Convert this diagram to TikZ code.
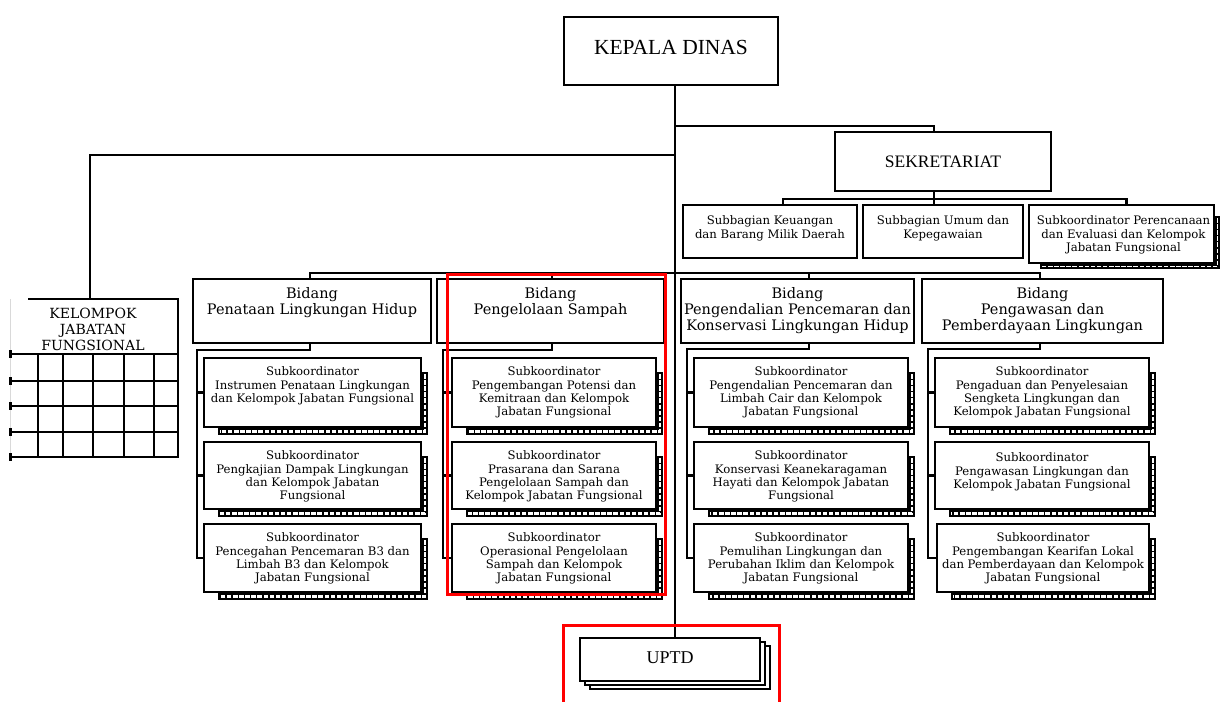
\documentclass[tikz,border=0pt]{standalone}
\usepackage{fontspec}
\setmainfont{Liberation Serif}
\newfontfamily\slabfont{DejaVu Serif}
\usetikzlibrary{calc}
\pgfdeclarelayer{paper}
\pgfdeclarelayer{back}
\pgfsetlayers{paper,back,main}

\tikzset{
  orgbox/.style={draw, line width=2.4pt, fill=white, inner sep=0pt, outer sep=0pt, anchor=north west},
  wire/.style={line width=2.4pt},
  gridline/.style={line width=2.5pt},
  smalltxt/.style={font=\slabfont\fontsize{11.7}{13.4}\selectfont, align=center, inner sep=0pt, anchor=north},
  bidtxt/.style={font=\slabfont\fontsize{14.5}{16}\selectfont, align=center, inner sep=0pt, anchor=north},
  headtxt/.style={inner sep=0pt},
  redframe/.style={draw=red, line width=3pt},
}

% box given by its corners (x1,y1) (x2,y2), y growing downwards
\newcommand{\obox}[5]{\node[orgbox, minimum width={#4-#2}, minimum height={#5-#3}] (#1) at (#2,#3) {};}
% hatched drop shadow: node, right strip, bottom strip, inset, ladder width
\newcommand{\ladder}[5]{%
  \fill[black] ($(#1.north west)+(#4,#4)$) rectangle ($(#1.south east)+(#2,#3)$);
  \draw[white, line width=#5pt, dash pattern=on 4.5pt off 1.6pt]
    ($(#1.north east)+(#2*0.5+0.5,#4+2)$) -- ($(#1.south east)+(#2*0.5+0.5,#3*0.5+0.5)$)
    -- ($(#1.south west)+(#4+2,#3*0.5+0.5)$);
}

\begin{document}
\begin{tikzpicture}[x=1pt,y=-1pt]
\useasboundingbox (0,0) rectangle (1220,701);
\begin{pgfonlayer}{paper}
  \fill[white] (0,0) rectangle (1220,701);
\end{pgfonlayer}

% ---------- boxes ----------
\obox{kd}{564}{17}{778}{85}
\obox{sek}{835}{132}{1051}{191}
\obox{sb1}{683}{205}{857}{258}
\obox{sb2}{863}{205}{1023}{258}
\obox{sb3}{1029}{205}{1214}{263}

\obox{bd1}{193}{279}{431}{343}
\obox{bd2}{437}{279}{664}{343}
\obox{bd3}{681}{279}{914}{343}
\obox{bd4}{922}{279}{1163}{343}

\obox{s11}{204}{358}{421}{427}
\obox{s12}{204}{442}{421}{509}
\obox{s13}{204}{524}{421}{592}
\obox{s21}{452}{358}{656}{427}
\obox{s22}{452}{442}{656}{509}
\obox{s23}{452}{524}{656}{592}
\obox{s31}{694}{358}{908}{427}
\obox{s32}{694}{442}{908}{509}
\obox{s33}{694}{524}{908}{592}
\obox{s41}{935}{358}{1149}{427}
\obox{s42}{935}{442}{1149}{509}
\obox{s43}{937}{524}{1149}{592}

\obox{uptd}{580}{638}{760}{681}
\node[inner sep=0pt, outer sep=0pt, minimum width=168, minimum height=158, anchor=north west] (kel) at (10,299) {};

% ---------- connectors and shadows ----------
\begin{pgfonlayer}{back}
  \coordinate (spine) at (675,0);
  \coordinate (jsek) at (675,126);
  \coordinate (jkel) at (675,155);
  \draw[wire] (kd.south -| spine) -- (uptd.north -| spine);
  \draw[wire] (jsek) -| ($(sek.north)+(-9,0)$);
  \draw[wire] ($(sek.south)+(-9,0)$) -- ($(sb2.north)+(-9,0)$);
  \draw[wire] ($(sb1.north)+(13,0)$) |- ($(sb3.north)+(5,-6)$) -- ($(sb3.north)+(5,0)$);
  \draw[wire] (jkel) -| ($(kel.north)+(-4,0)$);

  \draw[wire] ($(bd1.north)+(-2,0)$) |- ($(bd4.north)+(-2.5,-6)$) -- ($(bd4.north)+(-2.5,0)$);
  \draw[wire] ($(bd2.north)+(1.5,0)$) -- ++(0,-6);
  \draw[wire] ($(bd3.north)+(11.5,0)$) -- ++(0,-6);

  \coordinate (v1) at (197,350);
  \coordinate (v2) at (443,350);
  \coordinate (v3) at (687,349);
  \coordinate (v4) at (928,349);
  \draw[wire] ($(bd1.south)+(-2,0)$) |- (v1) |- (s13.west);
  \draw[wire] ($(bd2.south)+(1.5,0)$) |- (v2) |- (s23.west);
  \draw[wire] ($(bd3.south)+(11.5,0)$) |- (v3) |- (s33.west);
  \draw[wire] ($(bd4.south)+(-2.5,0)$) |- (v4) |- (s43.west);
  \foreach \c/\v in {1/v1,2/v2,3/v3,4/v4}{
    \draw[wire] (\v |- s\c1.west) -- (s\c1.west);
    \draw[wire] (\v |- s\c2.west) -- (s\c2.west);
  }

  \foreach \n in {s11,s12,s13,s21,s22,s23,s31,s32,s33,s41,s42,s43}{
    \ladder{\n}{7}{8}{14}{2.4}
  }
  \ladder{sb3}{6}{6}{11}{1.9}

  \draw[line width=1.8pt, fill=white] ($(uptd.north west)+(10,8)$) rectangle ($(uptd.south east)+(10,8)$);
  \draw[line width=1.8pt, fill=white] ($(uptd.north west)+(5,4)$) rectangle ($(uptd.south east)+(5,4)$);
\end{pgfonlayer}

% ---------- functional group table ----------
\draw[wire] ($(kel.north west)+(18,0)$) -- (kel.north east) -- (kel.south east) -- (kel.south west);
\draw[gray!30, line width=0.8pt] (kel.south west) -- (kel.north west);
\foreach \yy in {354,381,406,432} \draw[gridline] (10,\yy) -- (178,\yy);
\foreach \xx in {38,63,93,124,154} \draw[gridline] (\xx,354) -- (\xx,457);
\foreach \yy in {354,381,406,432,457} \fill (9,\yy-4) rectangle (12,\yy+4);

% ---------- texts ----------
\node[headtxt, font=\fontsize{21.5}{24}\selectfont] (kd-t) at ($(kd.center)+(0,-4)$) {KEPALA DINAS};
\node[headtxt, font=\fontsize{17.5}{20}\selectfont] (sek-t) at (sek.center) {SEKRETARIAT};
\node[headtxt, font=\fontsize{18}{20}\selectfont] (uptd-t) at ($(uptd.center)+(0,-2)$) {UPTD};

\node[smalltxt] (sb1-t) at ($(sb1.north)+(0,10.6)$) {Subbagian Keuangan\\dan Barang Milik Daerah};
\node[smalltxt] (sb2-t) at ($(sb2.north)+(0,10.6)$) {Subbagian Umum dan\\Kepegawaian};
\node[smalltxt] (sb3-t) at ($(sb3.north)+(2,10.6)$) {Subkoordinator Perencanaan\\dan Evaluasi dan Kelompok\\Jabatan Fungsional};

\node[bidtxt, font=\slabfont\fontsize{14}{16}\selectfont] (kel-t) at ($(kel.north)+(-1,9)$) {KELOMPOK\\JABATAN\\FUNGSIONAL};

\node[bidtxt] (bd1-t) at ($(bd1.north)+(0,8.5)$) {Bidang\\Penataan Lingkungan Hidup};
\node[bidtxt] (bd2-t) at ($(bd2.north)+(0,8.5)$) {Bidang\\Pengelolaan Sampah};
\node[bidtxt] (bd3-t) at ($(bd3.north)+(0,8.5)$) {Bidang\\Pengendalian Pencemaran dan\\Konservasi Lingkungan Hidup};
\node[bidtxt] (bd4-t) at ($(bd4.north)+(0,8.5)$) {Bidang\\Pengawasan dan\\Pemberdayaan Lingkungan};

\node[smalltxt] (s11-t) at ($(s11.north)+(0,8.6)$) {Subkoordinator\\Instrumen Penataan Lingkungan\\dan Kelompok Jabatan Fungsional};
\node[smalltxt] (s12-t) at ($(s12.north)+(0,8.6)$) {Subkoordinator\\Pengkajian Dampak Lingkungan\\dan Kelompok Jabatan\\Fungsional};
\node[smalltxt] (s13-t) at ($(s13.north)+(0,8.6)$) {Subkoordinator\\Pencegahan Pencemaran B3 dan\\Limbah B3 dan Kelompok\\Jabatan Fungsional};

\node[smalltxt] (s21-t) at ($(s21.north)+(0,8.6)$) {Subkoordinator\\Pengembangan Potensi dan\\Kemitraan dan Kelompok\\Jabatan Fungsional};
\node[smalltxt] (s22-t) at ($(s22.north)+(0,8.6)$) {Subkoordinator\\Prasarana dan Sarana\\Pengelolaan Sampah dan\\Kelompok Jabatan Fungsional};
\node[smalltxt] (s23-t) at ($(s23.north)+(0,8.6)$) {Subkoordinator\\Operasional Pengelolaan\\Sampah dan Kelompok\\Jabatan Fungsional};

\node[smalltxt] (s31-t) at ($(s31.north)+(0,8.6)$) {Subkoordinator\\Pengendalian Pencemaran dan\\Limbah Cair dan Kelompok\\Jabatan Fungsional};
\node[smalltxt] (s32-t) at ($(s32.north)+(0,8.6)$) {Subkoordinator\\Konservasi Keanekaragaman\\Hayati dan Kelompok Jabatan\\Fungsional};
\node[smalltxt] (s33-t) at ($(s33.north)+(0,8.6)$) {Subkoordinator\\Pemulihan Lingkungan dan\\Perubahan Iklim dan Kelompok\\Jabatan Fungsional};

\node[smalltxt] (s41-t) at ($(s41.north)+(0,8.6)$) {Subkoordinator\\Pengaduan dan Penyelesaian\\Sengketa Lingkungan dan\\Kelompok Jabatan Fungsional};
\node[smalltxt] (s42-t) at ($(s42.north)+(0,10.6)$) {Subkoordinator\\Pengawasan Lingkungan dan\\Kelompok Jabatan Fungsional};
\node[smalltxt] (s43-t) at ($(s43.north)+(0,8.6)$) {Subkoordinator\\Pengembangan Kearifan Lokal\\dan Pemberdayaan dan Kelompok\\Jabatan Fungsional};

% ---------- highlight frames ----------
\draw[redframe] (447,274) rectangle (665,594);
\draw[redframe] (563,704) -- (563,625) -- (779,625) -- (779,704);
\end{tikzpicture}
\end{document}
